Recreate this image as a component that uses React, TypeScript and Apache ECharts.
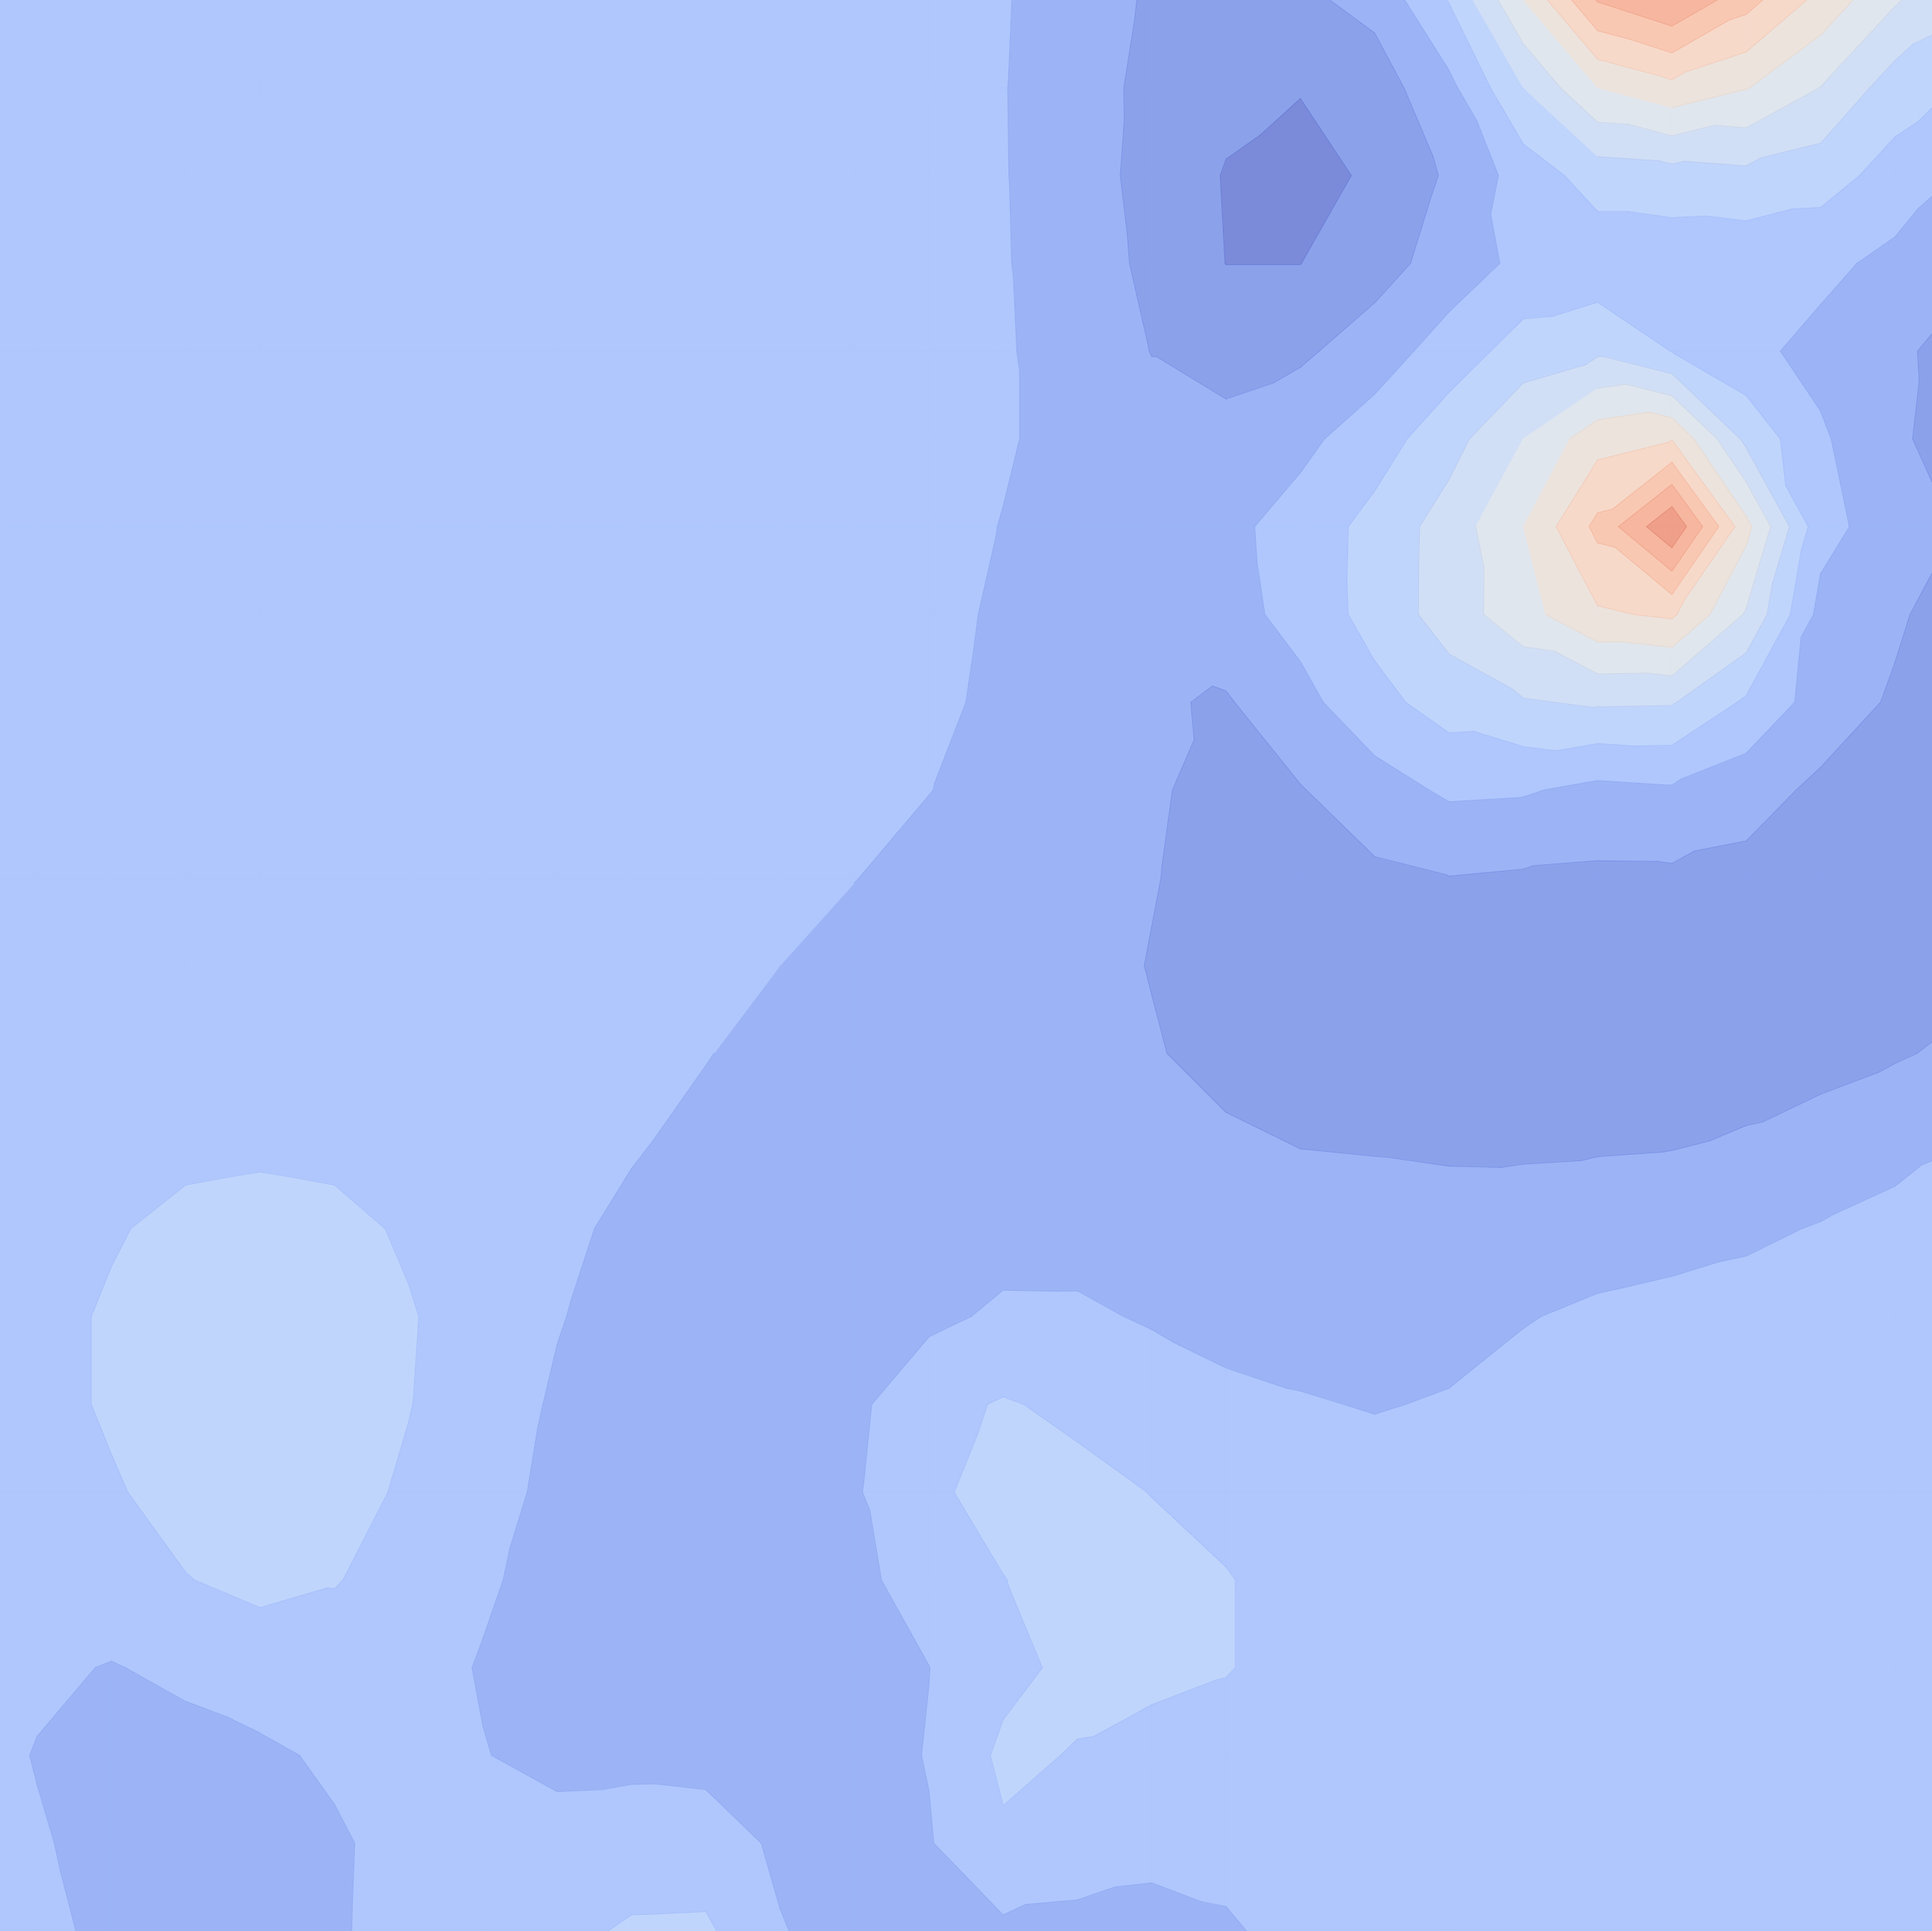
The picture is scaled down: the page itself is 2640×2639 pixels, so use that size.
import React, { useEffect, useRef } from "react";
import * as echarts from "echarts";

// Grid node positions, expressed in the original sampling index of the field (x: 0..52, y: 0..44)
const columnIndex = [0, 1, 3, 5, 7, 9, 11, 13, 15, 17, 19, 21, 23, 25, 27, 29, 31, 33, 35, 37, 39, 41, 43, 45, 47, 49, 51, 52];
const rowIndex = [0, 2, 4, 6, 8, 10, 12, 14, 16, 18, 20, 22, 24, 26, 28, 30, 32, 34, 36, 38, 40, 42, 44];

// Contour levels, the fill colour of each band and the edge colour of each level
const levels = [1, 2, 3, 4, 5, 6, 7, 8, 9, 10, 11];
const bandColors = [
  "#7b8bda", "#8ba2eb", "#9cb4f5", "#afc7fd", "#c0d5fc", "#d1dff6",
  "#e0e6ee", "#ece3dd", "#f7d9ca", "#f9c8b3", "#f7b69f", "#ef9f8a",
];
const levelLineColors = [
  "#6f80d6", "#7d95e6", "#93acf2", "#a7c0fa", "#bacdf4", "#cdd8ea",
  "#e6dcd4", "#f2cfbd", "#f4bda5", "#f1aa92", "#e8907a",
];

// Field values, one array per grid row (top to bottom)
const r00 = [3.5, 3.5, 3.5, 3.5, 3.5, 3.5, 3.5, 3.5, 3.5, 3.5, 3.5, 3.5, 3.5, 3.4, 3.07, 2.48, 1.88, 1.55, 1.81, 2.29, 4.05, 7.0, 10.07, 10.97, 9.38, 7.68, 6.12, 5.5];
const r01 = [3.5, 3.5, 3.5, 3.5, 3.5, 3.5, 3.5, 3.5, 3.5, 3.5, 3.5, 3.5, 3.5, 3.39, 3.04, 2.4, 1.76, 1.26, 1.07, 1.52, 2.74, 5.0, 7.0, 7.7, 7.05, 5.98, 4.5, 4.25];
const r02 = [3.5, 3.5, 3.5, 3.5, 3.5, 3.5, 3.5, 3.5, 3.5, 3.5, 3.5, 3.5, 3.5, 3.39, 3.05, 2.41, 1.7, 0.94, 0.5, 1.23, 2.13, 3.44, 4.45, 4.6, 4.75, 4.43, 3.61, 3.16];
const r03 = [3.5, 3.5, 3.5, 3.5, 3.5, 3.5, 3.5, 3.5, 3.5, 3.5, 3.5, 3.5, 3.5, 3.39, 3.07, 2.47, 1.8, 0.99, 0.99, 1.59, 2.44, 3.26, 3.35, 3.35, 3.3, 3.25, 2.74, 2.49];
const r04 = [3.5, 3.5, 3.5, 3.5, 3.5, 3.5, 3.5, 3.5, 3.5, 3.5, 3.5, 3.5, 3.5, 3.42, 3.1, 2.56, 1.98, 1.64, 1.83, 2.5, 3.45, 4.43, 4.82, 3.98, 3.24, 2.72, 2.19, 1.88];
const r05 = [3.5, 3.5, 3.5, 3.5, 3.5, 3.5, 3.5, 3.5, 3.5, 3.5, 3.5, 3.5, 3.5, 3.42, 3.1, 2.65, 2.31, 2.3, 2.75, 3.52, 4.62, 6.0, 7.6, 7.95, 4.74, 3.13, 2.23, 1.75];
const r06 = [3.5, 3.5, 3.5, 3.5, 3.5, 3.5, 3.5, 3.5, 3.5, 3.5, 3.5, 3.5, 3.5, 3.36, 2.97, 2.61, 2.45, 2.75, 3.4, 4.33, 5.44, 7.0, 9.26, 11.9, 7.3, 3.35, 2.45, 2.26];
const r07 = [3.5, 3.5, 3.5, 3.5, 3.5, 3.5, 3.5, 3.5, 3.5, 3.5, 3.5, 3.5, 3.5, 3.3, 2.85, 2.56, 2.4, 2.62, 3.35, 4.36, 5.45, 6.63, 7.86, 8.15, 5.9, 2.7, 2.16, 1.77];
const r08 = [3.5, 3.5, 3.5, 3.5, 3.5, 3.5, 3.5, 3.5, 3.5, 3.5, 3.5, 3.5, 3.5, 3.23, 2.77, 2.48, 2.1, 1.91, 2.7, 3.68, 4.45, 4.92, 5.12, 5.08, 3.85, 2.55, 1.87, 1.71];
const r09 = [3.5, 3.5, 3.5, 3.5, 3.5, 3.5, 3.5, 3.5, 3.5, 3.5, 3.5, 3.5, 3.32, 3.02, 2.69, 2.43, 2.12, 1.69, 1.95, 2.57, 3.16, 3.1, 2.75, 2.88, 2.39, 1.81, 1.57, 1.5];
const r10 = [3.5, 3.5, 3.5, 3.5, 3.5, 3.5, 3.5, 3.5, 3.5, 3.5, 3.5, 3.32, 3.02, 2.7, 2.5, 2.4, 2.05, 1.65, 1.69, 1.82, 1.98, 1.88, 1.82, 1.83, 1.72, 1.57, 1.45, 1.45];
const r11 = [3.5, 3.5, 3.5, 3.5, 3.5, 3.5, 3.5, 3.5, 3.5, 3.5, 3.31, 3.0, 2.68, 2.5, 2.45, 2.36, 1.96, 1.61, 1.5, 1.52, 1.58, 1.54, 1.52, 1.52, 1.5, 1.5, 1.55, 1.6];
const r12 = [3.5, 3.5, 3.5, 3.5, 3.5, 3.5, 3.5, 3.5, 3.5, 3.36, 3.04, 2.68, 2.5, 2.45, 2.4, 2.41, 2.08, 1.69, 1.57, 1.56, 1.53, 1.53, 1.54, 1.56, 1.63, 1.71, 1.91, 2.06];
const r13 = [3.5, 3.5, 3.63, 3.74, 3.82, 3.74, 3.57, 3.5, 3.36, 3.1, 2.75, 2.56, 2.5, 2.5, 2.5, 2.47, 2.36, 2.15, 1.96, 1.92, 1.86, 1.85, 1.88, 1.92, 2.08, 2.33, 2.68, 2.89];
const r14 = [3.5, 3.59, 3.91, 4.26, 4.33, 4.26, 3.88, 3.58, 3.22, 2.78, 2.54, 2.5, 2.5, 2.56, 2.63, 2.64, 2.55, 2.45, 2.4, 2.38, 2.35, 2.42, 2.56, 2.67, 2.83, 3.06, 3.3, 3.38];
const r15 = [3.56, 3.68, 4.12, 4.4, 4.5, 4.41, 4.07, 3.56, 3.05, 2.65, 2.5, 2.5, 2.59, 2.79, 3.16, 3.15, 2.91, 2.69, 2.61, 2.57, 2.69, 2.95, 3.16, 3.28, 3.38, 3.44, 3.5, 3.5];
const r16 = [3.56, 3.68, 4.12, 4.42, 4.5, 4.4, 4.03, 3.46, 2.89, 2.58, 2.5, 2.55, 2.79, 3.7, 4.08, 3.79, 3.52, 3.22, 3.07, 2.95, 3.07, 3.32, 3.47, 3.5, 3.5, 3.5, 3.5, 3.5];
const r17 = [3.5, 3.59, 3.91, 4.32, 4.5, 4.31, 3.88, 3.31, 2.79, 2.53, 2.5, 2.58, 2.9, 3.85, 4.29, 4.28, 3.98, 3.71, 3.46, 3.4, 3.44, 3.5, 3.5, 3.5, 3.5, 3.5, 3.5, 3.5];
const r18 = [3.5, 3.44, 3.62, 3.97, 4.23, 4.05, 3.62, 3.12, 2.68, 2.5, 2.5, 2.52, 2.78, 3.39, 3.98, 4.37, 4.31, 4.05, 3.65, 3.5, 3.5, 3.5, 3.5, 3.5, 3.5, 3.5, 3.5, 3.5];
const r19 = [3.32, 3.18, 2.95, 3.22, 3.5, 3.56, 3.35, 2.94, 2.6, 2.5, 2.5, 2.5, 2.62, 2.99, 3.71, 4.26, 4.22, 4.05, 3.65, 3.5, 3.5, 3.5, 3.5, 3.5, 3.5, 3.5, 3.5, 3.5];
const r20 = [3.2, 2.95, 2.62, 2.65, 2.83, 3.15, 3.38, 3.03, 2.77, 2.79, 2.72, 2.57, 2.64, 3.04, 4.2, 3.94, 3.7, 3.6, 3.5, 3.5, 3.5, 3.5, 3.5, 3.5, 3.5, 3.5, 3.5, 3.5];
const r21 = [3.29, 3.1, 2.67, 2.5, 2.57, 2.88, 3.32, 3.33, 3.33, 3.43, 3.44, 2.85, 2.6, 2.94, 3.85, 3.44, 3.24, 3.31, 3.46, 3.5, 3.5, 3.5, 3.5, 3.5, 3.5, 3.5, 3.5, 3.5];
const r22 = [3.38, 3.24, 2.78, 2.53, 2.58, 2.9, 3.33, 3.5, 3.72, 4.13, 4.16, 3.05, 2.63, 2.68, 2.81, 2.76, 2.71, 2.88, 3.32, 3.5, 3.5, 3.5, 3.5, 3.5, 3.5, 3.5, 3.5, 3.5];

const field = [r00, r01, r02, r03, r04, r05, r06, r07, r08, r09, r10, r11, r12, r13, r14, r15, r16, r17, r18, r19, r20, r21, r22];

type P = [number, number, number];

function clip(poly: P[], level: number, keepAbove: boolean): P[] {
  const out: P[] = [];
  const n = poly.length;
  for (let i = 0; i < n; i++) {
    const a = poly[i];
    const b = poly[(i + 1) % n];
    const ia = keepAbove ? a[2] >= level : a[2] <= level;
    const ib = keepAbove ? b[2] >= level : b[2] <= level;
    if (ia) out.push(a);
    if (ia !== ib) {
      const t = (level - a[2]) / (b[2] - a[2]);
      out.push([a[0] + t * (b[0] - a[0]), a[1] + t * (b[1] - a[1]), level]);
    }
  }
  return out;
}

function cellTriangles(api: any): P[][] {
  const c = api.value(2) as number;
  const r = api.value(3) as number;
  const corner = (ci: number, ri: number): P => {
    const p = api.coord([columnIndex[ci], rowIndex[ri]]);
    return [p[0], p[1], field[ri][ci]];
  };
  const p0 = corner(c, r);
  const p1 = corner(c + 1, r);
  const p2 = corner(c + 1, r + 1);
  const p3 = corner(c, r + 1);
  return Math.abs(p0[2] - p2[2]) <= Math.abs(p1[2] - p3[2])
    ? [[p0, p1, p2], [p0, p2, p3]]
    : [[p0, p1, p3], [p1, p2, p3]];
}

function renderFill(_params: any, api: any) {
  const children: any[] = [];
  const nb = bandColors.length;
  for (const tri of cellTriangles(api)) {
    const vmin = Math.min(tri[0][2], tri[1][2], tri[2][2]);
    const vmax = Math.max(tri[0][2], tri[1][2], tri[2][2]);
    for (let b = 0; b < nb; b++) {
      const lo = b === 0 ? -Infinity : levels[b - 1];
      const hi = b === nb - 1 ? Infinity : levels[b];
      if (vmax < lo || vmin > hi) continue;
      let poly: P[] = tri;
      if (lo > -Infinity) poly = clip(poly, lo, true);
      if (poly.length >= 3 && hi < Infinity) poly = clip(poly, hi, false);
      if (poly.length < 3) continue;
      children.push({
        type: "polygon",
        silent: true,
        shape: { points: poly.map((p) => [p[0], p[1]]) },
        style: { fill: bandColors[b], stroke: bandColors[b], lineWidth: 1 },
      });
    }
  }
  return { type: "group", children };
}

function renderEdges(_params: any, api: any) {
  const children: any[] = [];
  for (const tri of cellTriangles(api)) {
    for (let k = 0; k < levels.length; k++) {
      const L = levels[k];
      const pts: number[][] = [];
      for (let i = 0; i < 3; i++) {
        const a = tri[i];
        const b = tri[(i + 1) % 3];
        if ((a[2] - L) * (b[2] - L) < 0) {
          const t = (L - a[2]) / (b[2] - a[2]);
          pts.push([a[0] + t * (b[0] - a[0]), a[1] + t * (b[1] - a[1])]);
        }
      }
      if (pts.length === 2) {
        children.push({
          type: "line",
          silent: true,
          shape: { x1: pts[0][0], y1: pts[0][1], x2: pts[1][0], y2: pts[1][1] },
          style: { stroke: levelLineColors[k], lineWidth: 1.2, lineCap: "round" },
        });
      }
    }
  }
  return { type: "group", children };
}

export default function App() {
  const ref = useRef<HTMLDivElement>(null);
  useEffect(() => {
    document.body.style.margin = "0";
    document.body.style.overflow = "hidden";
    const chart = echarts.init(ref.current!, undefined, { renderer: "svg" });
    const cells: number[][] = [];
    for (let r = 0; r < rowIndex.length - 1; r++) {
      for (let c = 0; c < columnIndex.length - 1; c++) {
        cells.push([columnIndex[c], rowIndex[r], c, r]);
      }
    }
    chart.setOption({
      animation: false,
      backgroundColor: bandColors[3],
      grid: { left: 0, right: 0, top: 0, bottom: 0, containLabel: false },
      xAxis: { type: "value", min: 0, max: 52, show: false },
      yAxis: { type: "value", min: 0, max: 44, inverse: true, show: false },
      series: [
        {
          type: "custom",
          coordinateSystem: "cartesian2d",
          renderItem: renderFill,
          encode: { x: 0, y: 1 },
          data: cells,
          silent: true,
          z: 1,
        },
        {
          type: "custom",
          coordinateSystem: "cartesian2d",
          renderItem: renderEdges,
          encode: { x: 0, y: 1 },
          data: cells,
          silent: true,
          z: 2,
        },
      ],
    });
    return () => chart.dispose();
  }, []);
  return (
    <div
      ref={ref}
      style={{ position: "absolute", left: 0, top: 0, width: 2640, height: 2639 }}
    />
  );
}
